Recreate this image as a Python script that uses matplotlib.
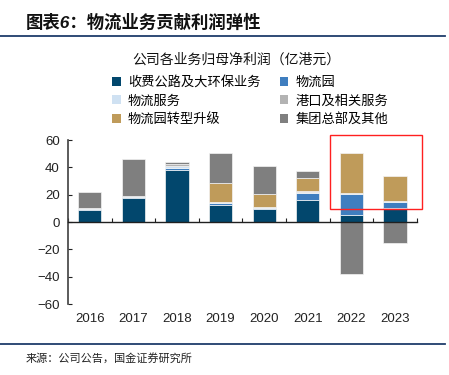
import numpy as np
import matplotlib
matplotlib.use("Agg")
import matplotlib.pyplot as plt
from matplotlib.patches import Patch, Rectangle
from matplotlib.lines import Line2D

plt.rcParams['font.family'] = ['Liberation Sans', 'Noto Sans CJK SC', 'DejaVu Sans']

# data (亿港元)
years = ['2016', '2017', '2018', '2019', '2020', '2021', '2022', '2023']
toll = [8.6, 17.6, 37.8, 12.7, 9.3, 15.9, 5.5, 10.0]
park = [1.0, 0.6, 1.7, 1.5, 0.8, 5.6, 14.8, 4.4]
service = [0.7, 0.6, 1.5, 0.7, 1.0, 0.5, 1.0, 1.2]
port = [0.0, 0.0, 1.2, 0.0, 0.0, 0.6, 0.0, 0.0]
upgrade = [0.0, 0.0, 0.0, 13.6, 9.2, 9.8, 29.2, 18.1]
hq = [11.4, 27.6, 1.7, 22.3, 20.7, 4.6, -38.3, -15.6]

names = ['收费公路及大环保业务', '物流园', '物流服务', '港口及相关服务', '物流园转型升级', '集团总部及其他']
series = [toll, park, service, port, upgrade, hq]
colors = ['#02476D', '#3F7EBF', '#CFE1F2', '#B3B3B3', '#BF9B5A', '#7F7F7F']

fig = plt.figure(figsize=(4.49, 3.75), dpi=100)
ax = fig.add_axes([0.1514, 0.1893, 0.777, 0.4373])

x = np.arange(len(years))
pos_bottom = np.zeros(len(years))
neg_bottom = np.zeros(len(years))
for vals, c in zip(series, colors):
    v = np.array(vals)
    b = np.where(v >= 0, pos_bottom, neg_bottom)
    ax.bar(x, v, 0.53, bottom=b, color=c, edgecolor='#F4F4F4', linewidth=0.5)
    pos_bottom += np.where(v >= 0, v, 0)
    neg_bottom += np.where(v < 0, v, 0)

ax.set_xlim(-0.5, len(years) - 0.5)
ax.set_ylim(-60, 60)
ax.set_yticks([-60, -40, -20, 0, 20, 40, 60])
ax.tick_params(axis='y', direction='in', length=3, labelsize=9.5, colors='#222222', pad=6)
ax.spines['top'].set_visible(False)
ax.spines['right'].set_visible(False)
ax.spines['left'].set_color('#404040')
ax.spines['left'].set_linewidth(1.2)
ax.spines['bottom'].set_position(('data', 0))
ax.spines['bottom'].set_color('#202020')
ax.spines['bottom'].set_linewidth(1.0)
ax.set_xticks(np.arange(len(years) + 1) - 0.5)
ax.set_xticklabels([])
ax.tick_params(axis='x', direction='in', length=3, color='#202020')
for i, yr in enumerate(years):
    ax.text(i, -0.055, yr, transform=ax.get_xaxis_transform(), ha='center', va='top',
            fontsize=9.5, color='#222222')

# header, lines and source
fig.text(0.058, 0.942, '图表6：物流业务贡献利润弹性', fontsize=12.5, fontweight='bold',
         style='italic', color='#111111', va='center')
fig.add_artist(Line2D([0, 0.99], [0.904, 0.904], color='#1F3D6B', lw=1.3))
fig.add_artist(Line2D([0, 0.99], [0.083, 0.083], color='#1F3D6B', lw=1.3))
fig.text(0.056, 0.044, '来源：公司公告，国金证券研究所', fontsize=8, color='#222222', va='center')

fig.text(0.527, 0.842, '公司各业务归母净利润（亿港元）', fontsize=10, ha='center', va='center',
         color='#111111')

order = [0, 2, 4, 1, 3, 5]
handles = [Patch(facecolor=colors[i], edgecolor='none') for i in order]
labels = [names[i] for i in order]
fig.legend(handles, labels, ncol=2, loc='upper left', bbox_to_anchor=(0.25, 0.797),
           frameon=False, fontsize=9.5, handlelength=0.65, handleheight=0.65,
           handletextpad=0.55, columnspacing=1.45, labelspacing=0.45, borderpad=0,
           borderaxespad=0)

# red highlight box
fig.add_artist(Rectangle((330 / 449, 1 - 209 / 375), 91.5 / 449, 73.5 / 375,
                         transform=fig.transFigure, fill=False, edgecolor='#FF2020', lw=1.0))

fig.savefig('out.png', dpi=100)
